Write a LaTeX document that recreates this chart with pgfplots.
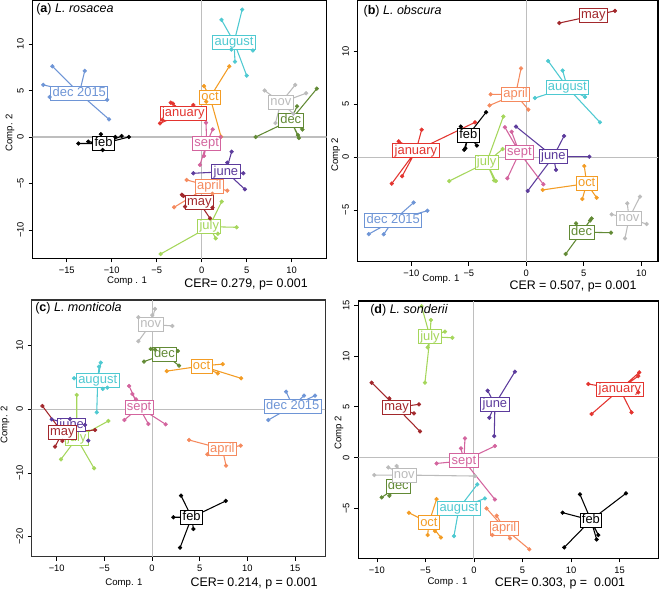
\documentclass[border=0pt]{standalone}
\usepackage{pgfplots}
\pgfplotsset{compat=1.18}
\usepackage{fontspec}
\setmainfont{Liberation Sans}

\definecolor{cfeb}{HTML}{000000}
\definecolor{cjan}{HTML}{E3342F}
\definecolor{cdecf}{HTML}{6E95D6}
\definecolor{caug}{HTML}{4EC9D1}
\definecolor{coct}{HTML}{F39C24}
\definecolor{cnov}{HTML}{BBBBBB}
\definecolor{cdec}{HTML}{628A35}
\definecolor{csep}{HTML}{D3649E}
\definecolor{cjun}{HTML}{5C3B9C}
\definecolor{capr}{HTML}{F58A5E}
\definecolor{cmay}{HTML}{A2282C}
\definecolor{cjul}{HTML}{A5D65B}
\definecolor{zline}{HTML}{BEBEBE}

% one group: colour, centroid x, centroid y, label, points
\newcommand\grp[5]{%
  \gdef\spk{}\gdef\pts{}%
  \foreach \p in {#5}{\xdef\spk{\spk(#2,#3)(\p)}\xdef\pts{\pts(\p)}}%
  \edef\tmp{\noexpand\addplot[#1,line width=0.8pt,mark=none,forget plot] coordinates{\spk};%
    \noexpand\addplot[#1,only marks,mark=*,mark size=1.4pt,forget plot] coordinates{\pts};}%
  \tmp
  \xdef\labs{\unexpanded\expandafter{\labs}\noexpand\node[lbl=#1] at (axis cs:#2,#3) {#4};}%
}

\tikzset{
  lbl/.style={draw=#1,text=#1,fill=white,line width=0.6pt,
    inner xsep=1.4pt,inner ysep=0.7pt,text height=7pt,text depth=2pt,
    font=\fontsize{9.7}{10}\selectfont},
}
\pgfplotsset{
  panel/.style={scale only axis, anchor=north west,
    axis line style={line width=0.8pt},
    tick align=outside, xtick pos=bottom, ytick pos=left,
    major tick length=3pt, tick style={black,line width=0.6pt},
    ticklabel style={font=\fontsize{7}{8}\selectfont},
    yticklabel style={rotate=90,anchor=south},
  },
  zl/.style={zline,line width=0.8pt,forget plot},
}

\begin{document}
\begin{tikzpicture}
\path[use as bounding box] (0,0) rectangle (495pt,-441.75pt);

% (a)
\gdef\labs{}
\begin{axis}[panel, at={(24.4pt,0pt)}, width=220.65pt, height=193.7pt,
  xmin=-18.8, xmax=13.9, ymin=-13.04, ymax=14.73,
  xtick={-15,-10,-5,0,5,10}, xticklabels={−15,−10,−5,0,5,10},
  ytick={-10,-5,0,5,10}, yticklabels={−10,−5,0,5,10}]
\addplot[zl] coordinates {(-30,0)(30,0)};
\addplot[zl] coordinates {(0,-30)(0,30)};
\grp{capr}{0.85}{-5.27}{april}{{-1.67,-4.62},{-3.07,-7.56},{2.85,-5.77},{1.2,-6.1}}
\grp{caug}{3.6}{10.2}{august}{{2.2,12.6},{4.5,13.7},{3.3,9.4},{3.7,8.1},{5.7,9.3},{5.0,6.6}}
\grp{cdec}{9.9}{1.8}{dec}{{12.8,5.2},{10.6,3.3},{6.0,0.0},{10.7,0.2},{11.2,0.8},{10.8,-0.1}}
\grp{cdecf}{-13.6}{4.7}{dec 2015}{{-16.6,7.6},{-17.6,5.6},{-16.9,4.3},{-13.0,7.1},{-10.5,4.0},{-10.3,1.9}}
\grp{cfeb}{-10.9}{-0.7}{feb}{{-13.7,-0.7},{-12.6,-0.5},{-11.2,0.3},{-11.0,-1.4},{-9.6,0.0},{-8.9,0.1},{-8.1,0.0}}
\grp{cjan}{-2.04}{2.54}{january}{{-3.44,3.69},{-4.37,1.83},{-4.63,1.47},{-0.93,3.44},{-3.2,3.6}}
\grp{cjul}{0.85}{-9.64}{july}{{2.22,-6.95},{3.89,-9.71},{-4.56,-12.58},{1.56,-10.9},{1.8,-10.4}}
\grp{cjun}{2.7}{-3.73}{june}{{-0.93,-3.9},{3.33,-1.58},{2.85,-2.76},{4.63,-3.9},{4.8,-5.63}}
\grp{cmay}{-0.26}{-7.06}{may}{{-2.04,-6.34},{-1.85,-7.49},{-2.2,-6.2},{0.93,-8.75},{1.2,-7.6}}
\grp{cnov}{8.8}{3.7}{nov}{{7.0,5.0},{10.4,5.6},{11.6,4.7},{8.2,1.5},{10.2,2.5}}
\grp{coct}{0.93}{4.27}{oct}{{0.26,5.48},{3.07,7.6},{2.15,0.04},{0.5,3.8}}
\grp{csep}{0.56}{-0.68}{sept}{{0.48,1.54},{1.22,0.82},{-0.19,-3.0},{0.26,-2.04},{2.1,0.0}}
\labs
\end{axis}

% (b)
\gdef\labs{}
\begin{axis}[panel, at={(268.3pt,0pt)}, width=225.2pt, height=196.3pt,
  xmin=-14.66, xmax=11.45, ymin=-9.9, ymax=14.88,
  xtick={-10,-5,0,5,10}, xticklabels={−10,−5,0,5,10},
  ytick={-10,-5,0,5,10}, yticklabels={−10,−5,0,5,10}]
\addplot[zl] coordinates {(-30,0)(30,0)};
\addplot[zl] coordinates {(0,-30)(0,30)};
\grp{capr}{-0.93}{5.95}{april}{{-0.46,8.4},{-3.1,5.95},{-3.2,4.9},{0.17,4.5}}
\grp{caug}{3.57}{6.6}{august}{{1.9,9.1},{3.16,8.2},{0.75,5.6},{5.1,5.7},{6.4,3.3}}
\grp{cdec}{4.81}{-7.1}{dec}{{4.32,-6.27},{5.54,-6.0},{5.68,-5.8},{7.36,-7.15},{3.42,-9.17}}
\grp{cdecf}{-11.57}{-6.0}{dec 2015}{{-9.8,-4.3},{-8.6,-5.07},{-13.7,-7.28},{-12.4,-7.3}}
\grp{cfeb}{-5.04}{2.1}{feb}{{-3.5,4.25},{-5.7,2.9},{-5.4,0.7},{-5.3,0.84},{-4.3,1.1}}
\grp{cjan}{-9.6}{0.6}{january}{{-9.1,2.6},{-11.1,1.5},{-11.7,-2.5},{-10.8,-1.8},{-4.46,3.3}}
\grp{cjul}{-3.45}{-0.5}{july}{{-2.0,3.85},{-2.06,0.77},{-6.7,-2.26},{-2.8,-2.2},{-2.65,-2.26}}
\grp{cjun}{2.35}{0.05}{june}{{-0.9,2.9},{3.28,2.0},{5.48,0.05},{2.58,-1.2},{0.12,-3.2}}
\grp{cmay}{5.83}{13.4}{may}{{2.87,12.7},{7.7,13.85}}
\grp{cnov}{8.93}{-5.8}{nov}{{8.78,-4.37},{9.88,-3.74},{7.42,-5.42},{10.46,-6.33},{8.58,-7.69}}
\grp{coct}{5.25}{-2.5}{oct}{{5.04,-0.84},{1.42,-3.1},{4.87,-3.96},{6.12,-3.84}}
\grp{csep}{-0.6}{0.43}{sept}{{-1.86,2.83},{-1.28,2.4},{-1.65,-2.0},{1.48,-2.57}}
\labs
\end{axis}

% (c)
\gdef\labs{}
\begin{axis}[panel, at={(23.8pt,-225pt)}, width=220pt, height=192.5pt,
  axis line style={line width=0.8pt,black!80},
  xmin=-12.62, xmax=18.15, ymin=-23.15, ymax=17.17,
  xtick={-10,-5,0,5,10,15}, xticklabels={−10,−5,0,5,10,15},
  ytick={-20,-10,0,10}, yticklabels={−20,−10,0,10}]
\addplot[zl] coordinates {(-30,0)(30,0)};
\addplot[zl] coordinates {(0,-30)(0,30)};
\grp{capr}{7.38}{-6.23}{april}{{3.88,-4.82},{5.8,-7.07},{9.3,-5.7},{7.76,-8.85}}
\grp{caug}{-5.7}{4.5}{august}{{-8.18,4.87},{-5.38,7.33},{-5.56,6.7},{-5.8,-0.47},{-5.17,3.2},{-4.69,3.4}}
\grp{cdec}{1.3}{8.64}{dec}{{-0.14,9.48},{-0.84,7.5},{2.7,9.16},{2.83,6.86},{0.3,9.4}}
\grp{cdecf}{14.76}{0.52}{dec 2015}{{14.06,2.77},{15.94,2.15},{17.1,2.15},{12.2,-1.68}}
\grp{cfeb}{4.16}{-16.96}{feb}{{3.04,-13.56},{2.24,-16.96},{7.73,-14.4},{4.34,-18.8},{2.94,-21.73}}
\grp{cjul}{-7.9}{-4.55}{july}{{-7.9,2.25},{-4.58,-1.83},{-9.55,-7.85},{-6.08,-9.27}}
\grp{cjun}{-8.43}{-2.46}{june}{{-10.52,-1.57},{-8.6,-1.52},{-6.68,-4.92},{-7.03,-2.46}}
\grp{cmay}{-9.4}{-3.66}{may}{{-11.5,0.52},{-10.17,-5.86},{-9.4,-4.97},{-5.98,-3.25}}
\grp{cnov}{-0.14}{13.35}{nov}{{0.31,15.76},{-1.43,14.45},{0.03,14.8},{2.13,13.1},{-1.43,10.7}}
\grp{coct}{5.2}{6.8}{oct}{{1.54,6.0},{7.41,7.1},{6.9,5.65},{9.34,4.87}}
\grp{csep}{-1.36}{0.31}{sept}{{-2.41,3.66},{-2.06,2.41},{-1.68,1.57},{-2.9,-1.68},{-0.38,-2.3},{1.43,-2.36}}
\labs
\end{axis}

% (d)
\gdef\labs{}
\begin{axis}[panel, at={(268.7pt,-225.75pt)}, width=225pt, height=193pt,
  xmin=-11.92, xmax=18.99, ymin=-9.89, ymax=15.41,
  xtick={-10,-5,0,5,10,15}, xticklabels={−10,−5,0,5,10,15},
  ytick={-5,0,5,10,15}, yticklabels={−5,0,5,10,15}]
\addplot[zl] coordinates {(-30,0)(30,0)};
\addplot[zl] coordinates {(0,-30)(0,30)};
\grp{capr}{3.1}{-6.92}{april}{{1.3,-4.98},{2.34,-5.7},{1.89,-7.6},{3.71,-7.93},{5.7,-9.0}}
\grp{caug}{-1.55}{-4.98}{august}{{0.34,-2.62},{1.13,-4.0},{-2.06,-7.7}}
\grp{cdec}{-7.8}{-2.79}{dec}{{-9.51,-3.9},{-8.72,-3.74}}
\grp{cfeb}{12.05}{-6.13}{feb}{{10.92,-3.6},{15.66,-3.5},{9.13,-5.4},{12.81,-7.6},{12.64,-8.03},{9.3,-8.82}}
\grp{cjan}{15.04}{6.72}{january}{{11.78,7.25},{12.12,4.3},{16.24,4.46},{16.93,6.43},{16.93,8.03},{17.03,8.39}}
\grp{cjul}{-4.53}{11.9}{july}{{-5.4,14.9},{-4.43,13.54},{-2.99,12.4},{-2.23,11.8},{-4.77,10.85},{-5.05,7.38}}
\grp{cjun}{2.16}{5.25}{june}{{1.41,6.59},{4.22,8.46},{1.58,3.93},{2.09,2.13}}
\grp{cmay}{-7.97}{4.95}{may}{{-10.54,7.38},{-8.72,5.84},{-5.67,5.25},{-6.18,4.36},{-5.56,2.59}}
\grp{cnov}{-7.18}{-1.7}{nov}{{-10.27,-1.7},{-8.83,-0.95},{-7.97,-0.82},{0.1,-1.8}}
\grp{coct}{-4.64}{-6.39}{oct}{{-3.85,-4.07},{-6.7,-5.41},{-4.77,-7.6},{-4.02,-7.21},{-3.4,-7.84}}
\grp{csep}{-1.03}{-0.3}{sept}{{-3.85,-0.56},{-1.34,0.92},{-0.93,1.9},{2.16,1.15},{2.16,-4.1}}
\labs
\end{axis}

% titles and labels
\begin{scope}[every node/.style={inner sep=0pt}]
\node[anchor=west,font=\fontsize{9.4}{10}\selectfont] at (27pt,-7pt) {(\textbf{a}) \textit{L. rosacea}};
\node[anchor=west,font=\fontsize{9.4}{10}\selectfont] at (272.5pt,-8.25pt) {(\textbf{b}) \textit{L. obscura}};
\node[anchor=west,font=\fontsize{9.4}{10}\selectfont] at (26.25pt,-231.2pt) {(\textbf{c}) \textit{L. monticola}};
\node[anchor=west,font=\fontsize{9.4}{10}\selectfont] at (277.5pt,-232.5pt) {(\textbf{d}) \textit{L. sonderii}};
\begin{scope}[font=\fontsize{7.2}{8}\selectfont]
\node at (95.25pt,-210.75pt) {Comp . 1};
\node at (330.75pt,-209.25pt) {Comp. 1};
\node at (93pt,-437pt) {Comp. 1};
\node at (335.6pt,-436.3pt) {Comp . 1};
\node[rotate=90] at (7.5pt,-99.75pt) {Comp. 2};
\node[rotate=90] at (251.8pt,-116.25pt) {Comp 2};
\node[rotate=90] at (3.75pt,-318.75pt) {Comp. 2};
\node[rotate=90] at (254.25pt,-324.75pt) {Comp 2};
\end{scope}
\begin{scope}[font=\fontsize{9.3}{10}\selectfont]
\node at (184.5pt,-213pt) {CER= 0.279, p= 0.001};
\node at (429.75pt,-214.5pt) {CER = 0.507, p= 0.001};
\node at (190.5pt,-437.25pt) {CER= 0.214, p = 0.001};
\node at (420pt,-437.5pt) {CER= 0.303, p =\ \ 0.001};
\end{scope}
\end{scope}
\end{tikzpicture}
\end{document}
